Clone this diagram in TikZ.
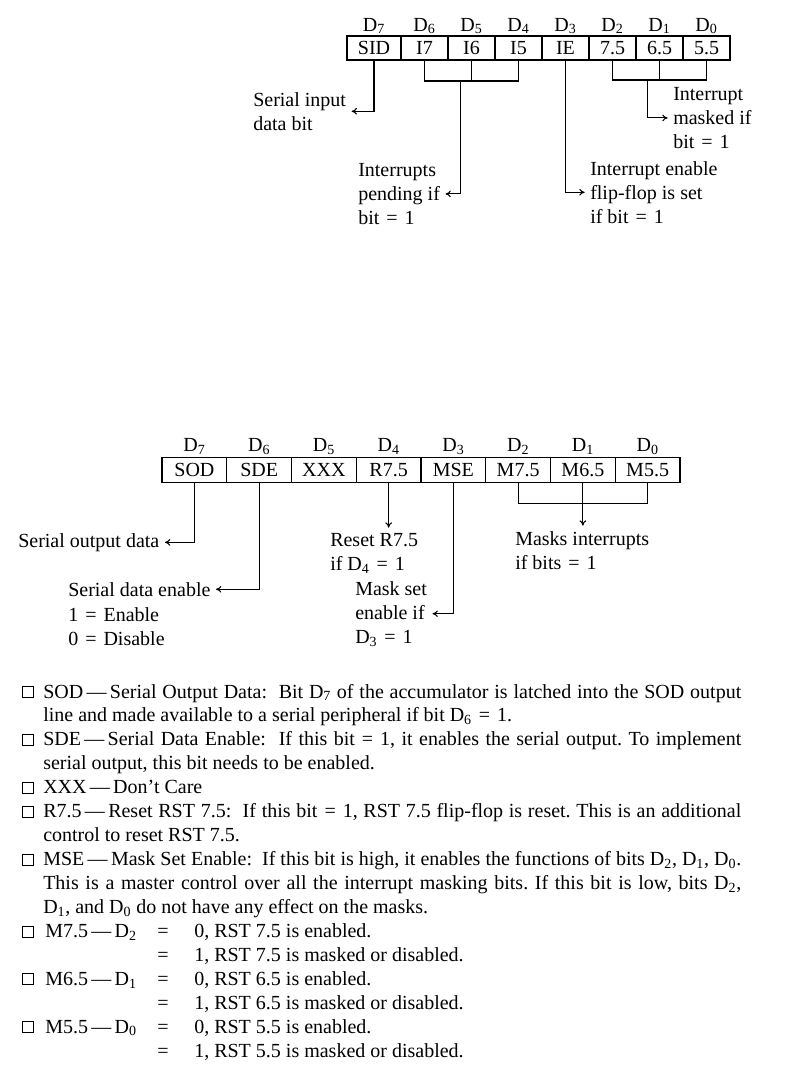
\documentclass[tikz,border=0pt]{standalone}
\usepackage{fontspec}
\setmainfont{Liberation Serif}
\usepackage{tikz}
\usetikzlibrary{
  arrows.meta,
  positioning,
  calc
}

\newcommand{\bitD}[1]{D\textsubscript{#1}}
\newcommand{\eqs}{\hspace{0.35em}=\hspace{0.35em}}
\newcommand{\fullline}[1]{\makebox[523.5pt][s]{#1}}
\frenchspacing

\begin{document}
\begin{tikzpicture}[
  x=0.75pt,
  y=-0.75pt,
  font=\fontsize{15}{18}\selectfont,
  node distance=0pt,
  cell/.style={
    draw,
    line width=1pt,
    outer sep=0pt,
    inner sep=0pt,
    minimum width=35.25pt,
    minimum height=18pt
  },
  wcell/.style={
    draw,
    line width=1pt,
    outer sep=0pt,
    inner sep=0pt,
    minimum width=48.56pt,
    minimum height=18.75pt
  },
  bitlbl/.style={
    inner sep=0pt,
    text height=11pt,
    text depth=3pt
  },
  note/.style={
    align=left,
    inner sep=0pt,
    anchor=north west
  },
  para/.style={
    anchor=base west,
    inner sep=0pt
  },
  bullet/.style={
    draw,
    line width=0.6pt,
    minimum size=8.25pt,
    inner sep=0pt,
    anchor=south west
  },
  bracket/.style={
    line width=0.8pt
  },
  arrow/.style={
    -{To[length=4pt,width=5pt]},
    line width=0.8pt,
    shorten >=4pt
  }
]
\useasboundingbox (0,0) rectangle (801,1075);

% --- RIM register ---
\node[cell,minimum width=40.5pt] (sid) at (374,48) {SID};
\node[cell,right=of sid] (i7) {I7};
\node[cell,right=of i7] (i6) {I6};
\node[cell,right=of i6] (i5) {I5};
\node[cell,right=of i5] (ie) {IE};
\node[cell,right=of ie] (t75) {7.5};
\node[cell,right=of t75] (t65) {6.5};
\node[cell,right=of t65] (t55) {5.5};

\node[bitlbl,above=0.5pt of sid] (td7) {\bitD{7}};
\node[bitlbl,above=0.5pt of i7] (td6) {\bitD{6}};
\node[bitlbl,above=0.5pt of i6] (td5) {\bitD{5}};
\node[bitlbl,above=0.5pt of i5] (td4) {\bitD{4}};
\node[bitlbl,above=0.5pt of ie] (td3) {\bitD{3}};
\node[bitlbl,above=0.5pt of t75] (td2) {\bitD{2}};
\node[bitlbl,above=0.5pt of t65] (td1) {\bitD{1}};
\node[bitlbl,above=0.5pt of t55] (td0) {\bitD{0}};

\node[note] (sidtxt) at (253,92) {Serial input\\data bit};
\node[note] (pendtxt) at (358,163) {Interrupts\\pending if\\bit\eqs 1};
\node[note] (ietxt) at (590,161) {Interrupt enable\\flip-flop is set\\if bit\eqs 1};
\node[note] (masktxt) at (673,87) {Interrupt\\masked if\\bit\eqs 1};

\draw[arrow] (sid.south) |- (sidtxt.east);
\draw[bracket] (i7.south) -- ++(0,21) -| (i5.south);
\draw[bracket] (i6.south) -- ++(0,21);
\coordinate (istem) at ($(i7.south)!0.38!(i5.south)+(0,21)$);
\draw[arrow] (istem) |- (pendtxt.east);
\draw[arrow] (ie.south) |- (ietxt.west);
\draw[bracket] (t75.south) -- ++(0,20) -| (t55.south);
\draw[bracket] (t65.south) -- ++(0,20);
\coordinate (kstem) at ($(t75.south)!0.37!(t55.south)+(0,20)$);
\draw[arrow] (kstem) |- (masktxt.west);

% --- SIM register ---
\node[wcell] (sod) at (194.4,470) {SOD};
\node[wcell,right=of sod] (sde) {SDE};
\node[wcell,right=of sde] (xxx) {XXX};
\node[wcell,right=of xxx] (r75) {R7.5};
\node[wcell,right=of r75] (mse) {MSE};
\node[wcell,right=of mse] (m75) {M7.5};
\node[wcell,right=of m75] (m65) {M6.5};
\node[wcell,right=of m65] (m55) {M5.5};

\node[bitlbl,above=1pt of sod] (bd7) {\bitD{7}};
\node[bitlbl,above=1pt of sde] (bd6) {\bitD{6}};
\node[bitlbl,above=1pt of xxx] (bd5) {\bitD{5}};
\node[bitlbl,above=1pt of r75] (bd4) {\bitD{4}};
\node[bitlbl,above=1pt of mse] (bd3) {\bitD{3}};
\node[bitlbl,above=1pt of m75] (bd2) {\bitD{2}};
\node[bitlbl,above=1pt of m65] (bd1) {\bitD{1}};
\node[bitlbl,above=1pt of m55] (bd0) {\bitD{0}};

\node[note] (sodtxt) at (18,533) {Serial output data};
\node[note] (sdetxt) at (68,582) {Serial data enable};
\node[note] (sdeval) at (68,607) {1\eqs Enable\\0\eqs Disable};
\node[note] (rsttxt) at (330,533) {Reset R7.5\\if \bitD{4}\eqs 1};
\node[note] (msetxt) at (355,581) {Mask set\\enable if\\\bitD{3}\eqs 1};
\node[note] (mintxt) at (515,531) {Masks interrupts\\if bits\eqs 1};

\draw[arrow] (sod.south) |- (sodtxt.east);
\draw[arrow] (sde.south) |- (sdetxt.east);
\draw[arrow] (r75.south) -- (r75.south |- rsttxt.north);
\draw[arrow] (mse.south) |- (msetxt.east);
\draw[bracket] (m75.south) -- ++(0,21) -| (m55.south);
\draw[bracket] (m65.south) -- ++(0,21) coordinate (mstem);
\draw[arrow] (mstem) -- (mstem |- mintxt.north);

% --- bit descriptions ---
\node[bullet] (b0) at (22,698) {};
\node[para] (l0) at (43,698) {\fullline{SOD\,---\,Serial Output Data:\ \ Bit \bitD{7} of the accumulator is latched into the SOD output}};
\node[para] (l1) at (43,721.9) {line and made available to a serial peripheral if bit \bitD{6}\eqs 1.};
\node[bullet] (b2) at (22,745.9) {};
\node[para] (l2) at (43,745.9) {\fullline{SDE\,---\,Serial Data Enable:\ \ If this bit\eqs 1, it enables the serial output. To implement}};
\node[para] (l3) at (43,769.8) {serial output, this bit needs to be enabled.};
\node[bullet] (b4) at (22,793.7) {};
\node[para] (l4) at (43,793.7) {XXX\,---\,Don't Care};
\node[bullet] (b5) at (22,817.7) {};
\node[para] (l5) at (43,817.7) {\fullline{R7.5\,---\,Reset RST 7.5:\ \ If this bit\eqs 1, RST 7.5 flip-flop is reset. This is an additional}};
\node[para] (l6) at (43,841.6) {control to reset RST 7.5.};
\node[bullet] (b7) at (22,865.5) {};
\node[para] (l7) at (43,865.5) {\fullline{MSE\,---\,Mask Set Enable:\ \ If this bit is high, it enables the functions of bits \bitD{2}, \bitD{1}, \bitD{0}.}};
\node[para] (l8) at (43,889.4) {\fullline{This is a master control over all the interrupt masking bits. If this bit is low, bits \bitD{2},}};
\node[para] (l9) at (43,913.4) {\bitD{1}, and \bitD{0} do not have any effect on the masks.};

% --- mask bits ---
\node[bullet] (b10) at (22,937.3) {};
\node[para] (k10) at (45,937.3) {M7.5\,---\,\bitD{2}};
\node[para] (e10) at (157,937.3) {=};
\node[para] (v10) at (194,937.3) {0, RST 7.5 is enabled.};
\node[para] (e11) at (157,961.2) {=};
\node[para] (v11) at (194,961.2) {1, RST 7.5 is masked or disabled.};
\node[bullet] (b12) at (22,985.2) {};
\node[para] (k12) at (45,985.2) {M6.5\,---\,\bitD{1}};
\node[para] (e12) at (157,985.2) {=};
\node[para] (v12) at (194,985.2) {0, RST 6.5 is enabled.};
\node[para] (e13) at (157,1009.1) {=};
\node[para] (v13) at (194,1009.1) {1, RST 6.5 is masked or disabled.};
\node[bullet] (b14) at (22,1033) {};
\node[para] (k14) at (45,1033) {M5.5\,---\,\bitD{0}};
\node[para] (e14) at (157,1033) {=};
\node[para] (v14) at (194,1033) {0, RST 5.5 is enabled.};
\node[para] (e15) at (157,1057) {=};
\node[para] (v15) at (194,1057) {1, RST 5.5 is masked or disabled.};

\end{tikzpicture}
\end{document}
